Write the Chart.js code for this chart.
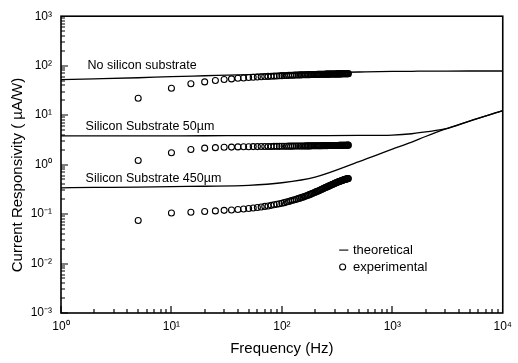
<!DOCTYPE html>
<html>
<head>
<meta charset="utf-8">
<script src="https://cdn.jsdelivr.net/npm/chart.js@4.4.0/dist/chart.umd.min.js"></script>
<style>
body{margin:0;background:#fff;}
</style>
</head>
<body>
<canvas id="chart" width="518" height="363"></canvas>
<script>
// measured points, 5 Hz steps
var freqExp = [5,10,15,20,25,30,35,40,45,50,55,60,65,70,75,80,85,90,95,100,
  105,110,115,120,125,130,135,140,145,150,155,160,165,170,175,180,185,190,195,200,
  205,210,215,220,225,230,235,240,245,250,255,260,265,270,275,280,285,290,295,300,
  305,310,315,320,325,330,335,340,345,350,355,360,365,370,375,380,385,390,395,400];
var noSubExp = [22,35,43,47,50,52.5,54,55.5,56.5,57.5,58.3,59,59.6,60.2,60.7,61.2,61.6,62,62.4,62.8,
  63.1,63.4,63.7,64,64.2,64.4,64.6,64.8,65,65.2,65.3,65.5,65.6,65.8,65.9,66,66.1,66.2,66.3,66.4,
  66.5,66.6,66.7,66.8,66.9,67,67,67.1,67.2,67.3,67.3,67.4,67.5,67.5,67.6,67.7,67.7,67.8,67.8,67.9,
  68,68,68.1,68.1,68.2,68.2,68.3,68.3,68.4,68.4,68.5,68.5,68.6,68.6,68.7,68.7,68.8,68.8,68.9,69];
var sub50Exp = [1.21,1.73,2.02,2.15,2.2,2.24,2.26,2.28,2.29,2.3,2.31,2.31,2.32,2.32,2.33,2.33,2.34,2.34,2.34,2.35,
  2.35,2.35,2.36,2.36,2.36,2.37,2.37,2.37,2.38,2.38,2.38,2.38,2.39,2.39,2.39,2.39,2.4,2.4,2.4,2.4,
  2.4,2.41,2.41,2.41,2.41,2.41,2.42,2.42,2.42,2.42,2.42,2.42,2.43,2.43,2.43,2.43,2.43,2.43,2.44,2.44,
  2.44,2.44,2.44,2.44,2.44,2.45,2.45,2.45,2.45,2.45,2.45,2.45,2.46,2.46,2.46,2.46,2.46,2.46,2.47,2.47];
var sub450Exp = [0.074,0.105,0.109,0.113,0.116,0.119,0.121,0.124,0.127,0.13,0.133,0.136,0.139,0.143,0.146,0.15,0.154,0.158,0.162,0.166,
  0.17,0.175,0.18,0.185,0.19,0.195,0.2,0.205,0.21,0.215,0.22,0.226,0.232,0.238,0.244,0.25,0.256,0.263,0.27,0.277,
  0.284,0.29,0.297,0.304,0.311,0.318,0.325,0.332,0.339,0.346,0.353,0.36,0.367,0.374,0.381,0.388,0.395,0.402,0.409,0.416,
  0.423,0.43,0.436,0.443,0.449,0.455,0.461,0.467,0.473,0.479,0.484,0.489,0.494,0.499,0.504,0.508,0.512,0.516,0.52,0.524];

// theoretical curves
var freqTheory = [1,2,5,10,20,50,100,200,500,1000,1500,2000,3000,5000,10000];
var noSubTheory = [52,54,57,60,62.5,66,69,71.5,74.5,76.5,77,77.5,77.8,78,78];
var sub50Theory = [3.8,3.8,3.81,3.82,3.83,3.84,3.85,3.86,3.88,3.95,4.2,4.6,5.25,7.6,12.3];
var sub450Theory = [0.34,0.345,0.35,0.36,0.365,0.38,0.43,0.56,1.15,2.05,2.85,3.7,5.2,7.6,12.3];

var xTicks = [1,10,100,1000,10000];
var yTicks = [0.001,0.01,0.1,1,10,100,1000];

var supers = {'-':'\u207B','0':'\u2070','1':'\u00B9','2':'\u00B2','3':'\u00B3','4':'\u2074'};
function tickLabel(v){
    var e = Math.round(Math.log10(v));
    return '10' + String(e).split('').map(c => supers[c]).join('');
}
function toPoints(xs, ys){
    return xs.map((x, i) => ({x: x, y: ys[i]}));
}

var tickFont = {family: 'Liberation Sans Narrow, Liberation Sans, Arial', size: 12};

function theoryLine(ys){
    return {
        data: toPoints(freqTheory, ys),
        showLine: true,
        borderColor: '#000',
        borderWidth: 1.3,
        pointRadius: 0,
        cubicInterpolationMode: 'monotone'
    };
}
function expPoints(ys){
    return {
        data: toPoints(freqExp, ys),
        showLine: false,
        pointStyle: 'circle',
        pointRadius: 3,
        borderWidth: 1.1,
        borderColor: '#000',
        backgroundColor: 'rgba(255,255,255,0)'
    };
}

var decor = {
    id: 'decor',
    afterDraw: function(chart){
        var ctx = chart.ctx;
        var a = chart.chartArea;
        var xs = chart.scales.x, ys = chart.scales.y;
        ctx.save();
        ctx.strokeStyle = '#000';
        ctx.lineWidth = 1.6;
        ctx.strokeRect(a.left, a.top, a.right - a.left, a.bottom - a.top);

        // inward ticks on bottom and left
        ctx.lineWidth = 1.2;
        ctx.beginPath();
        for(var d = 0; d < 4; d++){
            for(var k = 1; k <= 9; k++){
                var px = Math.round(xs.getPixelForValue(k * Math.pow(10, d)));
                var len = k == 1 ? 7 : 4;
                ctx.moveTo(px, a.bottom);
                ctx.lineTo(px, a.bottom - len);
            }
        }
        for(var d = -3; d < 3; d++){
            for(var k = 1; k <= 9; k++){
                var py = Math.round(ys.getPixelForValue(k * Math.pow(10, d)));
                var len = k == 1 ? 7 : 4;
                ctx.moveTo(a.left, py);
                ctx.lineTo(a.left + len, py);
            }
        }
        ctx.stroke();

        ctx.fillStyle = '#000';
        ctx.textBaseline = 'middle';
        ctx.textAlign = 'left';
        ctx.font = '12.5px Liberation Sans, Arial';
        ctx.fillText('No silicon substrate', xs.getPixelForValue(1.74), ys.getPixelForValue(100));
        ctx.fillText('Silicon Substrate 50\u00B5m', xs.getPixelForValue(1.67), ys.getPixelForValue(5.9));
        ctx.fillText('Silicon Substrate 450\u00B5m', xs.getPixelForValue(1.67), ys.getPixelForValue(0.53));

        // legend
        ctx.font = '13px Liberation Sans, Arial';
        ctx.lineWidth = 1.1;
        var ly1 = ys.getPixelForValue(0.0187), ly2 = ys.getPixelForValue(0.0085);
        ctx.beginPath();
        ctx.moveTo(xs.getPixelForValue(330), ly1);
        ctx.lineTo(xs.getPixelForValue(400), ly1);
        ctx.stroke();
        ctx.beginPath();
        ctx.arc(xs.getPixelForValue(355), ly2, 3, 0, Math.PI * 2);
        ctx.stroke();
        ctx.fillText('theoretical', xs.getPixelForValue(440), ly1);
        ctx.fillText('experimental', xs.getPixelForValue(440), ly2);

        // axis titles
        ctx.font = '15px Liberation Sans, Arial';
        ctx.textAlign = 'center';
        ctx.fillText('Frequency (Hz)', (a.left + a.right) / 2, 349);
        ctx.translate(18, 175);
        ctx.rotate(-Math.PI / 2);
        ctx.fillText('Current Responsivity ( \u00B5A/W)', 0, 0);
        ctx.restore();
    }
};

var ctx = document.getElementById('chart');
var chart = new Chart(ctx, {
    type: 'scatter',
    data: {
        datasets: [
            theoryLine(noSubTheory),
            theoryLine(sub50Theory),
            theoryLine(sub450Theory),
            expPoints(noSubExp),
            expPoints(sub50Exp),
            expPoints(sub450Exp)
        ]
    },
    options: {
        responsive: false,
        devicePixelRatio: 1,
        animation: false,
        layout: {padding: {top: 15, right: 9, left: 0, bottom: 0}},
        plugins: {legend: {display: false}, tooltip: {enabled: false}},
        scales: {
            x: {
                type: 'logarithmic',
                min: 1, max: 10000,
                grid: {display: false, drawTicks: false},
                border: {display: false},
                afterBuildTicks: s => { s.ticks = xTicks.map(v => ({value: v})); },
                afterFit: s => { s.height = 50; },
                ticks: {color: '#000', font: tickFont, padding: 6, maxRotation: 0, callback: v => tickLabel(v)}
            },
            y: {
                type: 'logarithmic',
                min: 0.001, max: 1000,
                grid: {display: false, drawTicks: false},
                border: {display: false},
                afterBuildTicks: s => { s.ticks = yTicks.map(v => ({value: v})); },
                afterFit: s => { s.width = 61; },
                ticks: {color: '#000', font: tickFont, padding: 9, callback: v => tickLabel(v)}
            }
        }
    },
    plugins: [decor]
});
</script>
</body>
</html>
